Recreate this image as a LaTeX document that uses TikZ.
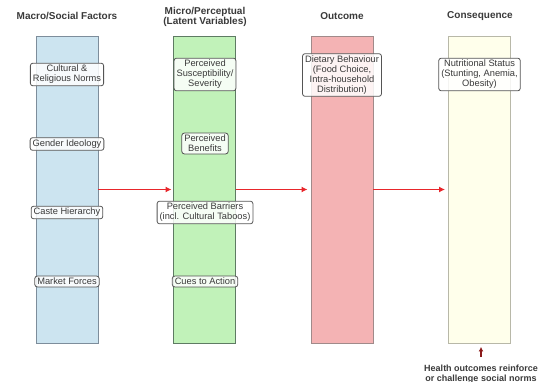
\documentclass[tikz,border=0pt]{standalone}
\usepackage{fontspec}
\setmainfont{Liberation Sans}
\usepackage{tikz}
\usetikzlibrary{arrows.meta}
\usepackage{xcolor}
\definecolor{macroblue}{HTML}{CCE4F0}
\definecolor{microgreen}{HTML}{C1F2B9}
\definecolor{outcomered}{HTML}{F4B3B4}
\definecolor{conseqyellow}{HTML}{FFFFEB}
\definecolor{macroedge}{HTML}{7D8D9B}
\definecolor{microedge}{HTML}{5E7B63}
\definecolor{outcomeedge}{HTML}{A08A8A}
\definecolor{conseqedge}{HTML}{B8B8A8}
\definecolor{flowred}{HTML}{E8262B}
\definecolor{loopred}{HTML}{8B1A1A}
\definecolor{boxgray}{HTML}{555555}
\definecolor{textgray}{HTML}{3A3A3A}
\tikzset{%
	heading/.style={
		font=\fontsize{10}{10.5}\selectfont\bfseries,
		text=textgray,
		align=center,
		inner sep=0pt
	},
	layer/.style={
		draw=#1,
		line width=0.9pt,
		minimum width=62pt,
		minimum height=307pt,
		inner sep=0pt
	},
	factor/.style={
		draw=boxgray,
		rounded corners=2.5pt,
		line width=0.8pt,
		fill=white,
		fill opacity=0.85,
		text opacity=1,
		text=textgray,
		font=\fontsize{9.3}{10}\selectfont,
		align=center,
		inner xsep=2.5pt,
		inner ysep=2pt
	},
	flow/.style={
		draw=flowred,
		line width=1.7pt,
		-{Latex[length=6pt,width=6pt]}
	},
	feedback/.style={
		draw=loopred,
		line width=1.4pt,
		-{Latex[length=4.5pt,width=5pt]}
	},
	note/.style={
		font=\fontsize{9}{10}\selectfont\bfseries,
		text=textgray,
		align=center,
		inner sep=0pt
	},
}
\begin{document}
\begin{tikzpicture}[x=1pt,y=-1pt]
	\useasboundingbox (0,0) rectangle (540,382);

	% Headings
	\node[heading] (hmacro) at (67,16) {Macro/Social Factors};
	\node[heading] (hmicro) at (205,17) {Micro/Perceptual\\(Latent Variables)};
	\node[heading] (houtcome) at (342,16) {Outcome};
	\node[heading] (hconseq) at (480,16) {Consequence};

	% Bars
	\node[layer=macroedge, fill=macroblue] (macro) at (67,189.5) {};
	\node[layer=microedge, fill=microgreen] (micro) at (204.5,189.5) {};
	\node[layer=outcomeedge, fill=outcomered] (outcome) at (342,189.5) {};
	\node[layer=conseqedge, fill=conseqyellow] (conseq) at (479,189.5) {};

	% Macro factors
	\node[factor] (norms) at (67,74.5) {Cultural \&\\Religious Norms};
	\node[factor] (gender) at (67,144) {Gender Ideology};
	\node[factor] (caste) at (67,212.5) {Caste Hierarchy};
	\node[factor] (market) at (67,281.5) {Market Forces};

	% Perceptual constructs
	\node[factor] (suscept) at (205,74.5) {Perceived\\Susceptibility/\\Severity};
	\node[factor] (benefit) at (205,143.5) {Perceived\\Benefits};
	\node[factor] (barrier) at (205,212.5) {Perceived Barriers\\(incl. Cultural Taboos)};
	\node[factor] (cues) at (205,281.5) {Cues to Action};

	% Outcome and consequence
	\node[factor] (diet) at (342,75) {Dietary Behaviour\\(Food Choice,\\Intra-household\\Distribution)};
	\node[factor] (status) at (479.5,74.5) {Nutritional Status\\(Stunting, Anemia,\\Obesity)};

	% Flow arrows
	\draw[flow, shorten >=1.5pt] (macro.east) -- (micro.west);
	\draw[flow, shorten >=3pt] (micro.east) -- (outcome.west);
	\draw[flow, shorten >=2.5pt] (outcome.east) -- (conseq.west);

	% Feedback note
	\node[note] (loop) at (481,374.5) {Health outcomes reinforce\\or challenge social norms};
	\draw[feedback, shorten <=8pt, shorten >=3.5pt] (loop.north) -- (loop.north |- conseq.south);

\end{tikzpicture}
\end{document}
